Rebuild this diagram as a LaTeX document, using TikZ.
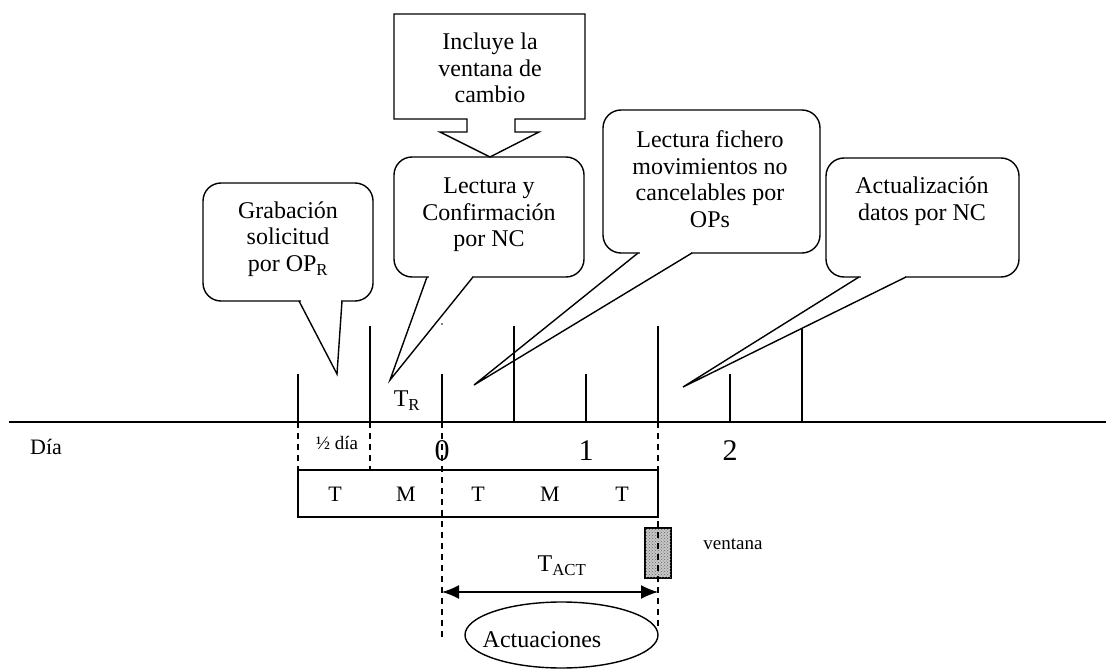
\documentclass[tikz,border=0pt]{standalone}
\usepackage{fontspec}
\setmainfont{Liberation Serif}
\usetikzlibrary{arrows.meta,shapes.geometric,patterns}
\newcommand\fbig{\fontsize{24}{26.5}\selectfont}
\newcommand\fmid{\fontsize{22}{24}\selectfont}
\newcommand\fsml{\fontsize{19}{21}\selectfont}
\newcommand\fnum{\fontsize{30}{32}\selectfont}
\begin{document}
\begin{tikzpicture}[x=1pt,y=-1pt,line width=1.4pt,line join=miter,
  bubble/.style={draw,rounded corners=18pt,inner sep=0pt},
  btext/.style={align=center,inner sep=0pt,font=\fbig},
  lbl/.style={inner sep=0pt,font=\fmid},
  tickln/.style={line width=1.5pt},
  dashln/.style={dash pattern=on 6pt off 5pt,line width=1.3pt},
  pointer/.style={line width=1.4pt,line join=miter},
  gap/.style={fill=white,draw=none}]
\useasboundingbox (0,0) rectangle (1106,669);

% axis
\coordinate (axL) at (9,422);
\coordinate (axR) at (1106,422);
\draw[line width=1.9pt] (axL) -- (axR);

% ticks
\foreach \x/\t in {298/374,370/326,442/374,514/326,586/374,658/326,730/374,802/328}
  \draw[tickln] (\x,\t) -- (\x,422);
\fill (442,324) circle (0.9pt);

% labels on axis
\node[lbl] (dia) at (46,447) {Día};
\node[inner sep=0pt,font=\fsml] (half) at (337,443) {½ día};
\node[inner sep=0pt,font=\fnum] (n0) at (442,451) {0};
\node[inner sep=0pt,font=\fnum] (n1) at (586,451) {1};
\node[inner sep=0pt,font=\fnum] (n2) at (730,451) {2};
\node[lbl,font=\fbig] (tr) at (407,401) {T\textsubscript{R}};

% T M T M T box
\node[draw,minimum width=360pt,minimum height=47pt,inner sep=0pt] (tm) at (478,493.5) {};
\foreach \x/\l in {335/T,406/M,478/T,550/M,622/T}
  \node[lbl] at (\x,494) {\l};

% window
\node[draw,fill=black!22,pattern color=black!70,minimum width=26pt,minimum height=50pt,inner sep=0pt,line width=1.2pt,
  postaction={pattern=crosshatch dots,pattern color=black!60}] (win) at (658,553) {};
\node[inner sep=0pt,font=\fsml] (ventana) at (733,544) {ventana};

% dashed lines
\draw[dashln] (298,422) -- (298,470);
\draw[dashln] (370,422) -- (370,470);
\draw[dashln] (442,422) -- (442,640);
\draw[dashln] (658,422) -- (658,630);

% T_ACT arrow
\coordinate (a0) at (442,592);
\coordinate (a1) at (658,592);
\draw[{Latex[length=17pt,width=14pt]}-{Latex[length=17pt,width=14pt]},line width=1.5pt] (a0) -- (a1);
\node[lbl,font=\fbig] (tact) at (562,566) {T\textsubscript{ACT}};

% Actuaciones
\node[draw,ellipse,minimum width=193pt,minimum height=66pt,inner sep=0pt] (act) at (561.5,635) {};
\node[btext] (acttext) at (542,640) {Actuaciones};

% Incluye la ventana de cambio (block arrow callout)
\draw (394,14) -- (585,14) -- (585,119) -- (515,119) -- (515,132) -- (539,132)
  -- (490,157) -- (440,132) -- (467,132) -- (467,119) -- (394,119) -- cycle;
\node[btext] (incl) at (490,68) {Incluye la\\ventana de\\cambio};

% Callout 1: Grabacion
\node[bubble,minimum width=170pt,minimum height=118pt] (grab) at (288,242) {};
\fill[gap] (300.5,299.5) rectangle (340.5,302.6);
\coordinate (grabtip) at (337,374);
\draw[pointer] (299,301) -- (grabtip) -- (342,301);
\node[btext] at (288,239) {Grabación\\solicitud\\por OP\textsubscript{R}};

% Callout 2: Lectura y Confirmacion
\node[bubble,minimum width=190pt,minimum height=120pt] (conf) at (489,217) {};
\fill[gap] (428.5,275.5) rectangle (471.5,278.6);
\coordinate (conftip) at (390,380);
\draw[pointer] (427,277) -- (conftip) -- (473,277);
\node[btext] at (489,215) {Lectura y\\Confirmación\\por NC};

% Callout 3: Lectura fichero
\node[bubble,minimum width=217pt,minimum height=143pt] (fich) at (711.5,181.5) {};
\fill[gap] (639.5,251.5) rectangle (690.5,254.6);
\coordinate (fichtip) at (474,385);
\draw[pointer] (638,253) -- (fichtip) -- (692,253);
\node[btext] at (710,179) {Lectura fichero\\movimientos no\\cancelables por\\OPs};

% Callout 4: Actualizacion
\node[bubble,minimum width=193pt,minimum height=119pt] (actu) at (922.5,217.5) {};
\fill[gap] (860.5,275.5) rectangle (904.5,278.6);
\coordinate (actutip) at (683,387);
\draw[pointer] (859,277) -- (actutip) -- (906,277);
\node[btext] at (922,201) {Actualización\\datos por NC};
\end{tikzpicture}
\end{document}
